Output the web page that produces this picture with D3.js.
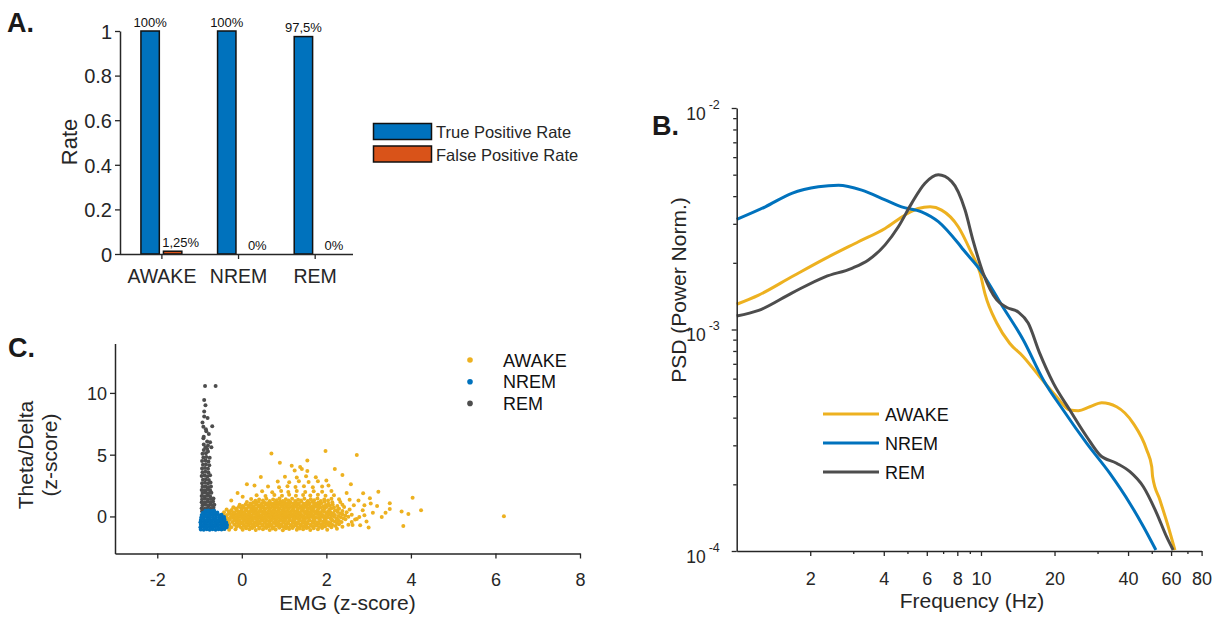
<!DOCTYPE html>
<html>
<head>
<meta charset="utf-8">
<script src="https://cdn.jsdelivr.net/npm/d3@7"></script>
<style>
  html, body { margin: 0; padding: 0; background: #ffffff; }
  svg { display: block; }
</style>
</head>
<body>
<svg id="fig" width="1223" height="619"></svg>
<script>
// ---------- Panel A: classification rates ----------
const stages = ["AWAKE", "NREM", "REM"];
const truePositiveRate = [1.0, 1.0, 0.975];
const falsePositiveRate = [0.0125, 0, 0];
const tprLabels = ["100%", "100%", "97,5%"];
const fprLabels = ["1,25%", "0%", "0%"];
const rateTicks = [0, 0.2, 0.4, 0.6, 0.8, 1];
const rateTickLabels = ["0", "0.2", "0.4", "0.6", "0.8", "1"];
const rateSeries = ["True Positive Rate", "False Positive Rate"];

// ---------- Panel B: power spectral density, [frequency Hz, PSD] ----------
const awakePsd = [
  [1.00, 1.30e-3], [1.23, 1.43e-3], [1.68, 1.73e-3], [2.30, 2.09e-3], [3.15, 2.49e-3],
  [4.05, 2.86e-3], [4.89, 3.29e-3], [5.53, 3.52e-3], [6.19, 3.58e-3], [6.90, 3.46e-3],
  [8.07, 2.91e-3], [9.02, 2.29e-3], [9.91, 1.80e-3], [10.4, 1.44e-3], [11.6, 1.07e-3],
  [13.1, 8.67e-4], [14.9, 7.54e-4], [17.4, 6.12e-4], [20.4, 4.97e-4], [23.1, 4.33e-4],
  [25.0, 4.30e-4], [27.9, 4.48e-4], [31.2, 4.67e-4], [35.9, 4.48e-4], [42.0, 3.77e-4],
  [47.7, 2.86e-4], [50.0, 2.40e-4], [50.4, 2.17e-4], [54.0, 1.70e-4], [58.4, 1.29e-4],
  [62.2, 1.01e-4]
];
const nremPsd = [
  [1.00, 3.14e-3], [1.31, 3.58e-3], [1.68, 4.12e-3], [2.16, 4.41e-3], [2.61, 4.48e-3],
  [3.25, 4.26e-3], [4.05, 3.85e-3], [4.73, 3.58e-3], [5.71, 3.40e-3], [6.69, 3.07e-3],
  [8.07, 2.45e-3], [8.47, 2.29e-3], [9.91, 1.86e-3], [12.15, 1.29e-3], [14.9, 8.97e-4],
  [18.0, 5.92e-4], [21.7, 4.33e-4], [27.1, 3.06e-4], [33.7, 2.24e-4], [40.7, 1.64e-4],
  [46.2, 1.29e-4], [52.0, 1.01e-4]
];
const remPsd = [
  [1.00, 1.15e-3], [1.23, 1.22e-3], [1.68, 1.46e-3], [2.30, 1.73e-3], [2.96, 1.89e-3],
  [3.46, 2.06e-3], [4.05, 2.41e-3], [4.59, 2.91e-3], [5.20, 3.71e-3], [5.90, 4.57e-3],
  [6.69, 4.99e-3], [7.59, 4.65e-3], [8.60, 3.47e-3], [9.30, 2.50e-3], [10.2, 1.80e-3],
  [11.6, 1.36e-3], [12.7, 1.26e-3], [14.2, 1.20e-3], [15.6, 1.07e-3], [17.4, 7.80e-4],
  [19.8, 5.71e-4], [23.1, 4.33e-4], [27.1, 3.28e-4], [30.7, 2.71e-4], [35.9, 2.49e-4],
  [40.7, 2.28e-4], [46.2, 1.95e-4], [52.4, 1.48e-4], [57.5, 1.16e-4], [61.2, 1.01e-4]
];
const freqTicks = [2, 4, 6, 8, 10, 20, 40, 60, 80];
const freqMinorTicks = [3, 5, 7, 9, 30, 50, 70];
const psdMajorTicks = [1e-4, 1e-3, 1e-2];
const psdMinorTicks = [2e-4, 3e-4, 4e-4, 5e-4, 6e-4, 7e-4, 8e-4, 9e-4,
                       2e-3, 3e-3, 4e-3, 5e-3, 6e-3, 7e-3, 8e-3, 9e-3];

// ---------- Panel C: EMG vs theta/delta, [EMG z, theta/delta z] ----------
const awakePts = [
  [-0.42,-1.02],[-0.3,-1.07],[-0.15,-1.03],[0.02,-1.08],[0.18,-1.04],[0.33,-1.1],[0.5,-1.03],[0.66,-1.09],[0.8,-1.05],[0.97,-1.11],[1.12,-1.02],[1.3,-1.08],[1.45,-1.04],[1.62,-1.1],[1.8,-1.03],[2.02,-1.07],[2.25,-1.0],
  [0.1,-0.96],[0.25,-0.93],[0.41,-0.97],[0.58,-0.94],[0.73,-0.98],[0.89,-0.92],[1.04,-0.96],[1.2,-0.93],[1.37,-0.97],[1.53,-0.94],[1.7,-0.96],[1.9,-0.93],
  [-0.45,-0.86],[-0.36,-0.82],[-0.25,-0.88],[-0.12,-0.84],[-0.02,-0.9],[0.1,-0.83],[0.21,-0.87],[0.3,-0.81],[0.42,-0.89],[0.55,-0.85],[0.64,-0.8],[0.75,-0.88],[0.88,-0.83],[0.99,-0.86],[1.1,-0.9],[1.22,-0.82],[1.33,-0.87],[1.46,-0.84],[1.57,-0.89],[1.7,-0.83],[1.83,-0.86],[1.97,-0.81],[2.12,-0.88],[2.38,-0.84],
  [-0.3,-0.76],[-0.07,-0.73],[0.04,-0.77],[0.16,-0.74],[0.26,-0.78],[0.37,-0.72],[0.49,-0.76],[0.59,-0.73],[0.7,-0.77],[0.82,-0.74],[0.94,-0.78],[1.05,-0.72],[1.16,-0.76],[1.28,-0.73],[1.4,-0.77],[1.52,-0.74],[1.64,-0.78],[1.77,-0.73],[1.91,-0.76],[2.06,-0.74],[2.22,-0.77],
  [-0.48,-0.64],[-0.4,-0.69],[-0.29,-0.62],[-0.18,-0.67],[-0.06,-0.63],[0.05,-0.7],[0.15,-0.61],[0.27,-0.66],[0.36,-0.6],[0.48,-0.68],[0.6,-0.63],[0.7,-0.69],[0.81,-0.61],[0.93,-0.66],[1.04,-0.64],[1.16,-0.7],[1.27,-0.6],[1.39,-0.67],[1.5,-0.62],[1.63,-0.68],[1.75,-0.63],[1.88,-0.66],[2.0,-0.6],[2.15,-0.69],[2.3,-0.63],[2.52,-0.67],
  [-0.35,-0.56],[-0.12,-0.53],[0.01,-0.57],[0.1,-0.54],[0.22,-0.58],[0.32,-0.52],[0.42,-0.56],[0.54,-0.53],[0.66,-0.57],[0.76,-0.54],[0.87,-0.58],[0.98,-0.52],[1.1,-0.56],[1.21,-0.53],[1.33,-0.57],[1.44,-0.54],[1.56,-0.58],[1.69,-0.53],[1.82,-0.56],[1.95,-0.54],[2.1,-0.57],[2.25,-0.53],
  [-0.5,-0.43],[-0.41,-0.47],[-0.33,-0.41],[-0.22,-0.46],[-0.11,-0.42],[0.0,-0.48],[0.11,-0.44],[0.2,-0.4],[0.31,-0.47],[0.43,-0.42],[0.53,-0.46],[0.65,-0.41],[0.76,-0.48],[0.87,-0.43],[0.98,-0.4],[1.09,-0.46],[1.2,-0.42],[1.32,-0.47],[1.43,-0.41],[1.55,-0.45],[1.67,-0.42],[1.79,-0.48],[1.92,-0.43],[2.06,-0.47],[2.2,-0.41],[2.36,-0.46],[2.6,-0.44],
  [-0.44,-0.36],[-0.17,-0.33],[-0.06,-0.37],[0.05,-0.34],[0.15,-0.38],[0.25,-0.32],[0.36,-0.36],[0.47,-0.33],[0.58,-0.37],[0.69,-0.34],[0.8,-0.38],[0.91,-0.32],[1.02,-0.36],[1.13,-0.33],[1.24,-0.37],[1.36,-0.34],[1.48,-0.38],[1.6,-0.33],[1.72,-0.36],[1.85,-0.34],[1.99,-0.37],[2.14,-0.33],[2.3,-0.36],
  [-0.49,-0.27],[-0.39,-0.22],[-0.28,-0.26],[-0.16,-0.21],[-0.05,-0.28],[0.06,-0.23],[0.17,-0.27],[0.26,-0.2],[0.38,-0.25],[0.49,-0.22],[0.59,-0.28],[0.71,-0.24],[0.82,-0.21],[0.92,-0.27],[1.03,-0.23],[1.14,-0.26],[1.26,-0.2],[1.37,-0.25],[1.49,-0.22],[1.6,-0.28],[1.72,-0.24],[1.85,-0.21],[1.98,-0.27],[2.12,-0.23],[2.27,-0.26],[2.45,-0.22],[2.68,-0.25],
  [-0.33,-0.16],[-0.21,-0.13],[-0.1,-0.17],[0.01,-0.14],[0.12,-0.18],[0.22,-0.12],[0.33,-0.16],[0.44,-0.13],[0.55,-0.17],[0.66,-0.14],[0.77,-0.18],[0.88,-0.12],[0.99,-0.16],[1.1,-0.13],[1.22,-0.17],[1.33,-0.14],[1.45,-0.18],[1.57,-0.13],[1.69,-0.16],[1.82,-0.14],[1.95,-0.17],[2.09,-0.13],[2.24,-0.16],[2.4,-0.14],
  [-0.47,-0.04],[-0.37,-0.08],[-0.26,-0.02],[-0.14,-0.07],[-0.03,-0.01],[0.08,-0.06],[0.19,-0.03],[0.29,-0.09],[0.4,-0.02],[0.51,-0.07],[0.62,-0.04],[0.73,0.0],[0.84,-0.08],[0.95,-0.03],[1.06,-0.06],[1.17,-0.01],[1.28,-0.07],[1.4,-0.03],[1.52,-0.08],[1.63,-0.02],[1.76,-0.06],[1.89,-0.01],[2.03,-0.07],[2.18,-0.03],[2.34,-0.06],[2.52,-0.02],[2.78,-0.05],
  [-0.41,0.04],[-0.2,0.07],[-0.08,0.03],[0.03,0.06],[0.14,0.02],[0.24,0.08],[0.35,0.04],[0.46,0.07],[0.57,0.03],[0.68,0.06],[0.79,0.02],[0.9,0.08],[1.01,0.04],[1.12,0.07],[1.24,0.03],[1.35,0.06],[1.46,0.02],[1.58,0.08],[1.7,0.04],[1.83,0.07],[1.97,0.03],[2.12,0.06],[2.28,0.04],[2.45,0.07],
  [-0.46,0.16],[-0.35,0.12],[-0.24,0.18],[-0.12,0.13],[-0.01,0.19],[0.1,0.14],[0.21,0.11],[0.32,0.17],[0.42,0.12],[0.54,0.18],[0.65,0.13],[0.76,0.16],[0.86,0.1],[0.97,0.17],[1.08,0.12],[1.2,0.18],[1.31,0.14],[1.42,0.11],[1.54,0.17],[1.66,0.13],[1.78,0.19],[1.91,0.12],[2.05,0.16],[2.2,0.11],[2.38,0.17],[2.6,0.14],
  [-0.29,0.24],[-0.17,0.27],[-0.06,0.23],[0.06,0.26],[0.17,0.22],[0.28,0.28],[0.39,0.24],[0.5,0.27],[0.61,0.23],[0.72,0.26],[0.83,0.22],[0.93,0.28],[1.04,0.24],[1.16,0.27],[1.27,0.23],[1.38,0.26],[1.5,0.22],[1.62,0.28],[1.74,0.24],[1.87,0.27],[2.01,0.23],[2.16,0.26],[2.33,0.24],
  [-0.42,0.33],[-0.31,0.38],[-0.19,0.32],[-0.08,0.37],[0.04,0.31],[0.15,0.36],[0.25,0.39],[0.36,0.33],[0.47,0.37],[0.58,0.32],[0.69,0.38],[0.8,0.34],[0.9,0.31],[1.01,0.37],[1.12,0.33],[1.24,0.39],[1.35,0.32],[1.47,0.36],[1.58,0.31],[1.7,0.38],[1.82,0.33],[1.95,0.37],[2.1,0.32],[2.27,0.36],[2.48,0.34],
  [-0.26,0.44],[-0.13,0.47],[-0.02,0.43],[0.09,0.46],[0.2,0.42],[0.3,0.48],[0.41,0.44],[0.52,0.47],[0.63,0.43],[0.74,0.46],[0.85,0.42],[0.96,0.48],[1.07,0.44],[1.18,0.47],[1.29,0.43],[1.41,0.46],[1.52,0.42],[1.64,0.48],[1.77,0.44],[1.9,0.47],[2.04,0.43],[2.2,0.46],[2.38,0.44],
  [-0.36,0.56],[-0.24,0.52],[-0.12,0.58],[0.0,0.53],[0.11,0.57],[0.22,0.51],[0.33,0.56],[0.44,0.52],[0.55,0.58],[0.66,0.54],[0.77,0.51],[0.88,0.57],[0.99,0.53],[1.1,0.59],[1.21,0.52],[1.32,0.56],[1.44,0.53],[1.56,0.58],[1.68,0.52],[1.8,0.57],[1.93,0.53],[2.08,0.56],[2.26,0.52],[2.55,0.57],
  [-0.14,0.64],[-0.01,0.67],[0.11,0.63],[0.23,0.66],[0.34,0.62],[0.45,0.68],[0.56,0.64],[0.67,0.67],[0.78,0.63],[0.89,0.66],[1.0,0.62],[1.11,0.68],[1.22,0.64],[1.33,0.67],[1.45,0.63],[1.57,0.66],[1.69,0.62],[1.82,0.68],[1.96,0.64],[2.12,0.67],[2.3,0.63],
  [-0.2,0.74],[-0.07,0.78],[0.05,0.72],[0.17,0.77],[0.28,0.73],[0.39,0.79],[0.5,0.74],[0.61,0.71],[0.72,0.77],[0.83,0.73],[0.94,0.78],[1.05,0.72],[1.16,0.76],[1.27,0.79],[1.38,0.73],[1.5,0.77],[1.62,0.72],[1.74,0.78],[1.87,0.74],[2.01,0.77],[2.18,0.73],[2.42,0.76],
  [0.02,0.84],[0.15,0.87],[0.28,0.83],[0.4,0.86],[0.51,0.82],[0.63,0.88],[0.74,0.84],[0.85,0.87],[0.96,0.83],[1.07,0.86],[1.19,0.82],[1.3,0.88],[1.42,0.84],[1.54,0.87],[1.66,0.83],[1.79,0.86],[1.93,0.82],[2.08,0.87],[2.26,0.84],
  [-0.05,0.94],[0.09,0.98],[0.22,0.92],[0.34,0.97],[0.45,0.93],[0.57,0.99],[0.68,0.94],[0.79,0.91],[0.9,0.97],[1.01,0.93],[1.12,0.98],[1.23,0.92],[1.35,0.96],[1.47,0.93],[1.59,0.99],[1.71,0.94],[1.84,0.97],[1.99,0.92],[2.15,0.96],[2.38,0.94],
  [0.2,1.04],[0.34,1.07],[0.47,1.03],[0.6,1.06],[0.72,1.02],[0.84,1.08],[0.96,1.04],[1.08,1.07],[1.21,1.03],[1.34,1.06],[1.47,1.02],[1.6,1.08],[1.74,1.04],[1.88,1.07],[2.05,1.03],
  [0.12,1.16],[0.27,1.12],[0.4,1.18],[0.53,1.13],[0.66,1.17],[0.78,1.11],[0.9,1.19],[1.02,1.14],[1.15,1.17],[1.28,1.12],[1.41,1.18],[1.54,1.13],[1.67,1.16],[1.81,1.12],[1.96,1.18],[2.14,1.14],[2.33,1.17],
  [0.32,1.27],[0.5,1.3],[0.66,1.25],[0.82,1.31],[0.97,1.26],[1.11,1.29],[1.26,1.24],[1.4,1.3],[1.56,1.26],[1.71,1.31],[1.87,1.25],[2.04,1.29],
  [0.22,1.42],[0.41,1.37],[0.58,1.44],[0.74,1.38],[0.89,1.45],[1.04,1.39],[1.19,1.43],[1.33,1.36],[1.48,1.44],[1.63,1.4],[1.79,1.46],[1.95,1.38],[2.12,1.43],[2.3,1.39],
  [0.35,1.72],[0.56,1.66],[0.77,1.74],[0.95,1.68],[1.12,1.75],[1.28,1.67],[1.45,1.73],[1.62,1.69],[1.8,1.76],[1.98,1.68],[2.18,1.72],
  [0.48,2.03],[0.72,1.96],[0.93,2.05],[1.1,1.98],[1.3,2.06],[1.5,1.97],[1.7,2.04],[1.9,1.99],[2.12,2.05],
  [0.62,2.42],[0.88,2.36],[1.08,2.45],[1.27,2.38],[1.47,2.44],[1.68,2.37],[1.9,2.43],[2.05,2.5],
  [0.85,2.82],[1.12,2.76],[1.35,2.85],[1.58,2.78],[1.8,2.84],[2.0,2.9],
  [1.02,3.22],[1.3,3.16],[1.52,3.25],[1.75,3.18],
  [1.25,3.72],[1.42,3.85],[1.55,3.68],[1.38,4.0],
  [0.7,5.1],[1.98,5.3],[2.72,4.98],[0.9,4.35],[1.55,4.52],[2.2,3.85],[2.38,3.35],[2.58,2.6],[0.45,3.2],[0.3,2.5],[-0.1,1.9],[0.12,2.6],[1.18,4.1],[-0.25,1.3],[0.02,1.6],[2.48,1.9],[2.55,1.35],[2.65,0.9],[2.62,-0.7],
  [2.87,1.88],[3.03,1.47],[3.23,2.0],[3.5,1.07],[4.04,1.52],[3.94,0.2],[3.78,0.4],[3.82,-0.77],[3.5,0.6],[3.31,-0.05],[4.24,0.5],[6.2,0.02],[2.9,0.9],[3.1,0.3],[2.95,-0.4],[3.2,0.85],[2.8,-0.72],[3.05,1.05],[2.76,1.3],[3.4,0.3],[2.72,-0.2],[2.86,0.5],[3.0,-0.9],[2.9,0.1]
];
const remPts = [
  [-0.94,0.42],[-0.87,0.38],[-0.8,0.45],[-0.73,0.4],[-0.66,0.47],
  [-0.95,0.66],[-0.88,0.62],[-0.81,0.68],[-0.74,0.63],[-0.67,0.7],
  [-0.93,0.9],[-0.86,0.94],[-0.79,0.88],[-0.72,0.92],[-0.65,0.95],
  [-0.95,1.15],[-0.88,1.12],[-0.81,1.18],[-0.74,1.13],[-0.68,1.2],
  [-0.94,1.4],[-0.87,1.43],[-0.8,1.37],[-0.73,1.42],[-0.67,1.46],
  [-0.95,1.65],[-0.88,1.62],[-0.82,1.68],[-0.75,1.63],
  [-0.93,1.9],[-0.86,1.93],[-0.79,1.87],[-0.72,1.92],
  [-0.95,2.15],[-0.88,2.12],[-0.81,2.18],[-0.75,2.13],
  [-0.93,2.4],[-0.86,2.43],[-0.79,2.37],[-0.73,2.42],
  [-0.94,2.68],[-0.87,2.72],[-0.8,2.66],[-0.74,2.75],
  [-0.92,2.98],[-0.85,3.02],[-0.78,2.96],
  [-0.95,3.27],[-0.88,3.31],[-0.81,3.25],[-0.75,3.33],
  [-0.93,3.58],[-0.86,3.62],[-0.79,3.55],
  [-0.94,3.88],[-0.87,3.92],[-0.8,3.86],
  [-0.92,4.18],[-0.85,4.22],[-0.77,4.15],
  [-0.94,4.48],[-0.86,4.52],[-0.79,4.45],
  [-0.91,4.78],[-0.84,4.82],[-0.76,4.75],
  [-0.93,5.08],[-0.85,5.12],[-0.8,5.25],
  [-0.9,5.38],[-0.82,5.45],[-0.86,5.6],
  [-0.9,5.82],[-0.82,6.06],[-0.91,6.33],[-0.78,6.68],[-0.9,6.46],[-0.85,7.05],[-0.91,7.27],[-0.81,7.97],[-0.89,8.1],[-0.89,8.49],[-0.89,9.43],[-0.87,10.55],[-0.62,10.55],[-0.75,6.0],[-0.72,5.6],[-0.8,5.75],[-0.86,9.0],[-0.93,7.6],[-0.7,7.3],[-0.84,6.9]
];
const nremPts = [
  [-0.97,-1.05],[-0.9,-1.08],[-0.83,-1.03],[-0.76,-1.07],[-0.69,-1.04],[-0.62,-1.08],[-0.55,-1.03],[-0.48,-1.06],[-0.41,-1.02],
  [-0.98,-0.87],[-0.91,-0.84],[-0.84,-0.89],[-0.77,-0.85],[-0.7,-0.88],[-0.63,-0.84],[-0.56,-0.89],[-0.49,-0.86],[-0.42,-0.83],[-0.36,-0.88],
  [-0.97,-0.68],[-0.9,-0.65],[-0.83,-0.7],[-0.76,-0.66],[-0.69,-0.69],[-0.62,-0.65],[-0.55,-0.7],[-0.48,-0.67],[-0.41,-0.64],[-0.35,-0.69],
  [-0.98,-0.48],[-0.91,-0.45],[-0.84,-0.5],[-0.77,-0.46],[-0.7,-0.49],[-0.63,-0.45],[-0.56,-0.5],[-0.49,-0.47],[-0.42,-0.44],[-0.37,-0.49],
  [-0.97,-0.28],[-0.9,-0.25],[-0.83,-0.3],[-0.76,-0.26],[-0.69,-0.29],[-0.62,-0.25],[-0.55,-0.3],[-0.48,-0.27],[-0.41,-0.24],
  [-0.96,-0.08],[-0.89,-0.05],[-0.82,-0.1],[-0.75,-0.06],[-0.68,-0.09],[-0.61,-0.05],[-0.54,-0.1],[-0.47,-0.07],[-0.42,-0.04],
  [-0.95,0.12],[-0.88,0.15],[-0.81,0.1],[-0.74,0.14],[-0.67,0.11],[-0.6,0.15],[-0.53,0.1],[-0.48,0.13],
  [-0.92,0.3],[-0.85,0.33],[-0.78,0.28],[-0.71,0.32],[-0.64,0.29],[-0.58,0.31],
  [-0.86,0.46],[-0.79,0.49],[-0.72,0.45],[-0.66,0.47]
];
const emgTicks = [-2, 0, 2, 4, 6, 8];
const thetaDeltaTicks = [0, 5, 10];
const scatterSeries = [
  { name: "AWAKE", pts: awakePts },
  { name: "REM", pts: remPts },
  { name: "NREM", pts: nremPts }
];

// ---------- shared styling ----------
const FONT = '"Liberation Sans", Arial, Helvetica, sans-serif';
const INK = "#262626";
const stageColor = { AWAKE: "#EDB120", NREM: "#0072BD", REM: "#4D4D4D" };
const rateColor = ["#0072BD", "#D95319"];

const svg = d3.select("#fig");
svg.append("rect").attr("width", 1223).attr("height", 619).attr("fill", "#fff");

function styleAxis(g) {
  g.select(".domain").attr("stroke", INK).attr("stroke-width", 1.5);
  g.selectAll(".tick line").attr("stroke", INK).attr("stroke-width", 1.3);
  g.selectAll(".tick text").attr("fill", INK).attr("font-family", FONT);
  return g;
}
function panelLetter(x, y, t) {
  svg.append("text").attr("x", x).attr("y", y).text(t)
    .attr("font-family", FONT).attr("font-weight", "bold").attr("font-size", 27).attr("fill", "#1a1a1a");
}

// ================= Panel A =================
{
  const L = 120, R = 353, T = 31, B = 254;
  const x = d3.scaleLinear().domain([0.46, 3.5]).range([L, R]);
  const y = d3.scaleLinear().domain([0, 1]).range([B, T]);
  const g = svg.append("g");
  const off = 0.147, bw = 0.24;
  const series = [truePositiveRate, falsePositiveRate];
  const labels = [tprLabels, fprLabels];

  series.forEach((vals, s) => {
    g.selectAll(null).data(vals).enter().append("rect")
      .attr("x", (d, i) => x(i + 1 + (s === 0 ? -off : off) - bw / 2))
      .attr("width", x(bw) - x(0))
      .attr("y", d => y(d))
      .attr("height", d => y(0) - y(d))
      .attr("fill", rateColor[s]).attr("stroke", "#111").attr("stroke-width", 1.5);
    g.selectAll(null).data(vals).enter().append("text")
      .attr("x", (d, i) => x(i + 1 + (s === 0 ? -off : off)) + (s === 0 ? 0 : 8))
      .attr("y", d => y(d) - 4.5)
      .attr("text-anchor", "middle").attr("font-family", FONT).attr("font-size", 13).attr("fill", "#111")
      .text((d, i) => labels[s][i]);
  });

  const ya = g.append("g").attr("transform", `translate(${L},0)`)
    .call(d3.axisLeft(y).tickValues(rateTicks).tickFormat((d, i) => rateTickLabels[i]).tickSize(5).tickSizeOuter(0));
  styleAxis(ya).selectAll(".tick text").attr("font-size", 20).attr("x", -8).attr("dy", "0.36em");
  const xa = g.append("g").attr("transform", `translate(0,${B})`)
    .call(d3.axisBottom(x).tickValues([1, 2, 3]).tickFormat((d, i) => stages[i]).tickSize(5).tickSizeOuter(0));
  styleAxis(xa).selectAll(".tick text").attr("font-size", 19.5).attr("y", 29).attr("dy", 0);
  xa.select(".domain").attr("d", `M${L},0.5H${R}`);

  g.append("text").attr("transform", `translate(77,142) rotate(-90)`)
    .attr("text-anchor", "middle").attr("font-family", FONT).attr("font-size", 22).attr("fill", INK).text("Rate");

  // legend
  const lg = svg.append("g");
  rateSeries.forEach((name, i) => {
    lg.append("rect").attr("x", 373.5).attr("y", 123.5 + i * 22.5).attr("width", 58).attr("height", 16)
      .attr("fill", rateColor[i]).attr("stroke", "#111").attr("stroke-width", 1.5);
    lg.append("text").attr("x", 436).attr("y", 138 + i * 22.5).attr("font-family", FONT)
      .attr("font-size", 16.5).attr("fill", INK).text(name);
  });
  panelLetter(7, 32, "A.");
}

// ================= Panel B =================
{
  const L = 736.7, R = 1201.6, T = 108, B = 551;
  const x = d3.scaleLog().domain([1, 80]).range([L, R]);
  const y = d3.scaleLog().domain([1e-4, 1e-2]).range([B, T]);
  const g = svg.append("g");

  const line = d3.line().x(d => x(d[0])).y(d => y(d[1])).curve(d3.curveMonotoneX);
  [["AWAKE", awakePsd], ["NREM", nremPsd], ["REM", remPsd]].forEach(([name, data]) => {
    g.append("path").datum(data).attr("d", line).attr("fill", "none")
      .attr("stroke", stageColor[name]).attr("stroke-width", 3).attr("stroke-linejoin", "round");
  });

  // axes
  const xm = g.append("g").attr("transform", `translate(0,${B})`)
    .call(d3.axisBottom(x).tickValues(freqMinorTicks).tickFormat("").tickSize(3).tickSizeOuter(0));
  styleAxis(xm).select(".domain").remove();
  const xa = g.append("g").attr("transform", `translate(0,${B})`)
    .call(d3.axisBottom(x).tickValues(freqTicks).tickFormat(d3.format("d")).tickSize(5).tickSizeOuter(0));
  styleAxis(xa).selectAll(".tick text").attr("font-size", 18).attr("y", 34).attr("dy", 0);

  const ym = g.append("g").attr("transform", `translate(${L},0)`)
    .call(d3.axisLeft(y).tickValues(psdMinorTicks).tickFormat("").tickSize(3.5).tickSizeOuter(0));
  styleAxis(ym).select(".domain").remove();
  const ya = g.append("g").attr("transform", `translate(${L},0)`)
    .call(d3.axisLeft(y).tickValues(psdMajorTicks).tickFormat("").tickSize(5).tickSizeOuter(0));
  styleAxis(ya);
  // power-of-ten labels: base "10" plus a raised exponent
  ya.selectAll(".tick").each(function (d) {
    const tick = d3.select(this);
    tick.append("text").attr("fill", INK).attr("font-family", FONT).attr("text-anchor", "end")
      .attr("x", -31).attr("y", 11).attr("font-size", 17.5).text("10");
    tick.append("text").attr("fill", INK).attr("font-family", FONT).attr("text-anchor", "start")
      .attr("x", -28).attr("y", 0).attr("font-size", 12.5).text(String(Math.round(Math.log10(d))));
  });

  g.append("text").attr("transform", `translate(686,290) rotate(-90)`)
    .attr("text-anchor", "middle").attr("font-family", FONT).attr("font-size", 21).attr("fill", INK)
    .text("PSD (Power Norm.)");
  g.append("text").attr("x", 972).attr("y", 608).attr("text-anchor", "middle")
    .attr("font-family", FONT).attr("font-size", 21).attr("fill", INK).text("Frequency (Hz)");

  // legend
  ["AWAKE", "NREM", "REM"].forEach((name, i) => {
    const yy = 414 + i * 29;
    g.append("line").attr("x1", 823).attr("x2", 879).attr("y1", yy).attr("y2", yy)
      .attr("stroke", stageColor[name]).attr("stroke-width", 3);
    g.append("text").attr("x", 885).attr("y", yy + 6.5).attr("font-family", FONT)
      .attr("font-size", 18).attr("fill", "#111").text(name);
  });
  panelLetter(652, 135, "B.");
}

// ================= Panel C =================
{
  const L = 115, R = 580, T = 343.5, B = 553.5;
  const x = d3.scaleLinear().domain([-3, 8]).range([L, R]);
  const y = d3.scaleLinear().domain([-3, 14]).range([B, T]);
  const g = svg.append("g");

  scatterSeries.forEach(s => {
    g.append("g").selectAll("circle").data(s.pts).enter().append("circle")
      .attr("cx", d => x(d[0])).attr("cy", d => y(d[1])).attr("r", 2.0)
      .attr("fill", stageColor[s.name]);
  });

  const xa = g.append("g").attr("transform", `translate(0,${B})`)
    .call(d3.axisBottom(x).tickValues(emgTicks).tickFormat(d3.format("d")).tickSize(5).tickSizeOuter(0));
  styleAxis(xa).selectAll(".tick text").attr("font-size", 18).attr("y", 32).attr("dy", 0);
  xa.selectAll(".tick text").text(d => d < 0 ? "-" + Math.abs(d) : d);
  const ya = g.append("g").attr("transform", `translate(${L},0)`)
    .call(d3.axisLeft(y).tickValues(thetaDeltaTicks).tickFormat(d3.format("d")).tickSize(5).tickSizeOuter(0));
  styleAxis(ya).selectAll(".tick text").attr("font-size", 18).attr("x", -8).attr("dy", "0.36em");

  g.append("text").attr("x", (L + R) / 2).attr("y", 610).attr("text-anchor", "middle")
    .attr("font-family", FONT).attr("font-size", 21).attr("fill", INK).text("EMG (z-score)");
  const yl = g.append("text").attr("transform", `translate(33,455) rotate(-90)`)
    .attr("text-anchor", "middle").attr("font-family", FONT).attr("font-size", 21).attr("fill", INK);
  yl.append("tspan").attr("x", 0).attr("dy", 0).text("Theta/Delta");
  yl.append("tspan").attr("x", 0).attr("dy", 24).text("(z-score)");

  ["AWAKE", "NREM", "REM"].forEach((name, i) => {
    const yy = 360 + i * 21.7;
    g.append("circle").attr("cx", 470).attr("cy", yy).attr("r", 2.8).attr("fill", stageColor[name]);
    g.append("text").attr("x", 503).attr("y", yy + 6.5).attr("font-family", FONT)
      .attr("font-size", 18).attr("fill", "#111").text(name);
  });
  panelLetter(8, 357, "C.");
}
</script>
</body>
</html>
